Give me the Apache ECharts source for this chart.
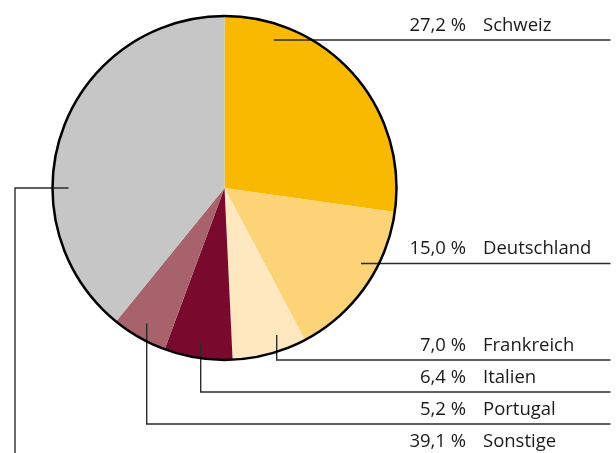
<!DOCTYPE html>
<html>
<head>
<meta charset="utf-8">
<script src="https://cdn.jsdelivr.net/npm/echarts@6/dist/echarts.min.js"></script>
<style>
  html, body { margin: 0; padding: 0; background: #fff; }
  #chart { width: 616px; height: 453px; }
</style>
</head>
<body>
<div id="chart"></div>
<script>
// Shares by country (percent)
const categories = ['Schweiz', 'Deutschland', 'Frankreich', 'Italien', 'Portugal', 'Sonstige'];
const shares = [27.2, 15.0, 7.0, 6.4, 5.2, 39.1];
const sliceColors = ['#F9B900', '#FDD377', '#FFE8BF', '#790A2E', '#A8626B', '#C5C6C5'];

// Layout (pixels)
const CX = 224.5, CY = 188, R = 172;
const ANCHOR_R = 156;                                   // where leader lines start inside the slices
const rowLineY = [40, 263.5, 360, 392, 424, 456];       // rule under each label row
const leaderKind = ['right', 'right', 'down', 'down', 'down', 'left'];
const leaderX = [null, null, 276.7, 200.7, 146.7, 15];  // x of vertical leader segments
const lineEndX = 610.5;
const valueRightX = 466, nameLeftX = 483;
const FONT = '"Open Sans", "Noto Sans", sans-serif';
const FONT_SIZE = 18.5;

function fmtShare(v) {
  return v.toFixed(1).replace('.', ',') + ' %';
}

function leaderPoints(i) {
  const y = rowLineY[i];
  const kind = leaderKind[i];
  if (kind === 'right') {
    const dy = y - CY;
    const ax = CX + Math.sqrt(ANCHOR_R * ANCHOR_R - dy * dy);
    return [[ax, y], [(ax + lineEndX) / 2, y], [lineEndX, y]];
  }
  if (kind === 'down') {
    const x = leaderX[i];
    const dx = x - CX;
    const ay = CY + Math.sqrt(ANCHOR_R * ANCHOR_R - dx * dx);
    return [[x, ay], [x, y], [lineEndX, y]];
  }
  const x = leaderX[i];
  return [[CX - ANCHOR_R, CY], [x, CY], [x, y], [lineEndX, y]];
}

const pieData = categories.map((name, i) => ({
  name: name,
  value: shares[i],
  itemStyle: { color: sliceColors[i] }
}));

const chart = echarts.init(document.getElementById('chart'), null, { renderer: 'canvas' });

chart.setOption({
  animation: false,
  backgroundColor: '#ffffff',
  series: [
    {
      // slices and percentage labels
      type: 'pie',
      z: 2,
      center: [CX, CY],
      radius: R,
      startAngle: 90,
      clockwise: true,
      silent: true,
      avoidLabelOverlap: false,
      data: pieData,
      itemStyle: { borderWidth: 0 },
      emphasis: { disabled: true },
      label: {
        show: true,
        formatter: p => fmtShare(p.value),
        fontFamily: FONT,
        fontSize: FONT_SIZE,
        color: '#1a1a1a'
      },
      labelLine: { show: false },
      labelLayout: p => ({
        x: valueRightX,
        y: rowLineY[p.dataIndex] - 14.5,
        align: 'right',
        verticalAlign: 'middle'
      })
    },
    {
      // country names and leader lines, drawn above the slices
      type: 'pie',
      z: 3,
      center: [CX, CY],
      radius: R,
      startAngle: 90,
      clockwise: true,
      silent: true,
      avoidLabelOverlap: false,
      data: pieData.map(d => ({ name: d.name, value: d.value })),
      itemStyle: { color: 'rgba(0,0,0,0)', borderWidth: 0 },
      emphasis: { disabled: true },
      label: {
        show: true,
        formatter: p => p.name,
        fontFamily: FONT,
        fontSize: FONT_SIZE,
        color: '#1a1a1a'
      },
      labelLine: {
        show: true,
        lineStyle: { color: '#2b2b2b', width: 1.4 }
      },
      labelLayout: p => ({
        x: nameLeftX,
        y: rowLineY[p.dataIndex] - 14.5,
        align: 'left',
        verticalAlign: 'middle',
        labelLinePoints: leaderPoints(p.dataIndex)
      })
    },
    {
      // outer rim of the pie
      type: 'pie',
      z: 4,
      center: [CX, CY],
      radius: R,
      silent: true,
      data: [{ value: 1, name: '' }],
      itemStyle: { color: 'rgba(0,0,0,0)', borderColor: '#000000', borderWidth: 2.5 },
      emphasis: { disabled: true },
      label: { show: false },
      labelLine: { show: false }
    }
  ]
});
</script>
</body>
</html>
